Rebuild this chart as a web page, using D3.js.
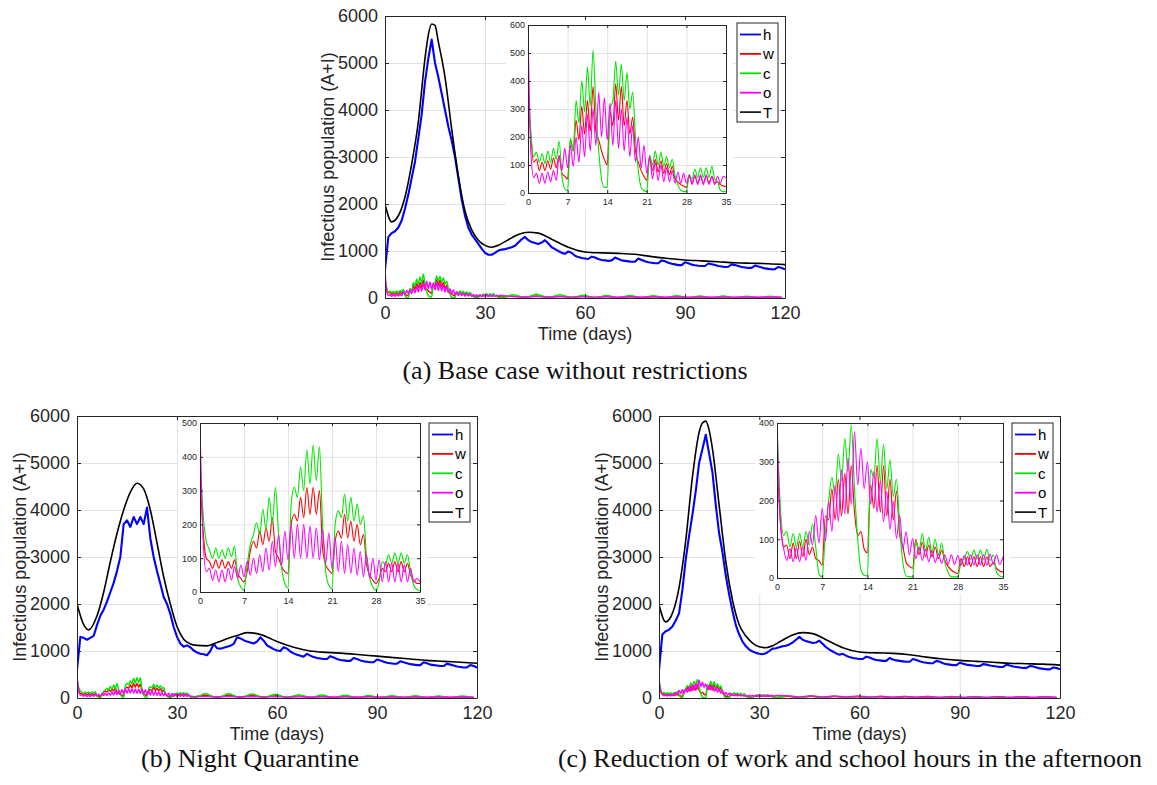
<!DOCTYPE html>
<html><head><meta charset="utf-8">
<script src="https://cdn.jsdelivr.net/npm/d3@7"></script>
<style>
body{margin:0;background:#fff}
svg{display:block}
text{font-family:"Liberation Sans",Arial,Helvetica,sans-serif}
</style>
</head><body>
<svg id="chart" width="1157" height="785"></svg>
<script>
// ---------- tick labels / categories ----------
const seriesNames = ["h","w","c","o","T"];
const mainXTicks = [0,30,60,90,120];
const mainYTicks = [0,1000,2000,3000,4000,5000,6000];
const insetXTicks = [0,7,14,21,28,35];
const insetYTicksA = [0,100,200,300,400,500,600];
const insetYTicksB = [0,100,200,300,400,500];
const insetYTicksC = [0,100,200,300,400];
const captions = ["(a) Base case without restrictions","(b) Night Quarantine","(c) Reduction of work and school hours in the afternoon"];

// sampling grids (x positions of the read-off values)
const hDays = d3.range(0,121);            // daily samples for h
const insetTimes = d3.range(0,35.001,0.5); // half-day samples, days 0-35
const tailTimes = d3.range(38.5,119.01,3.5); // mid-week / weekend samples, days 38.5-119

// ---------- panel (a) ----------
const hA = [600,1300,1380,1420,1500,1650,1900,2200,2550,2900,
 3400,3900,4600,5100,5500,5000,4700,4350,4000,3650,
 3350,3000,2550,2100,1750,1500,1350,1250,1150,1050,
 960,920,920,960,1010,1030,1040,1060,1080,1110,
 1180,1250,1300,1230,1190,1170,1150,1180,1230,1160,
 1080,1040,1000,960,940,990,960,900,870,850,
 840,830,880,860,830,810,800,790,800,860,
 830,800,790,780,770,770,840,810,780,760,
 750,740,740,800,780,750,730,715,700,700,
 760,740,710,695,685,680,680,735,720,700,
 680,670,660,665,715,700,680,660,650,640,
 640,690,670,650,630,620,610,615,660,640,
 610];
const TDaysA = [0,2,4,6,8,10,12,13,14,15,16,18,20,22,24,26,28,30,32,34,36,38,40,43,46,50,55,60,65,70,75,80,85,90,95,100,105,110,115,120];
const TA = [2000,1620,1750,2150,2850,3750,5100,5600,5830,5800,
 5450,4700,3600,2600,1850,1450,1230,1120,1080,1120,
 1200,1280,1350,1400,1380,1250,1080,980,960,950,
 930,880,840,810,790,770,750,740,730,710];
const wA = [350,200,110,120,80,110,80,115,85,125,90,135,70,60,
 50,190,150,260,190,310,210,330,220,380,220,190,150,120,
 100,290,240,390,260,380,240,330,210,270,150,110,80,60,
 45,130,80,120,75,115,70,105,65,95,50,40,30,25,
 20,60,35,60,35,60,35,60,35,60,35,40,30,25,
 22];
const cA = [400,220,130,145,110,140,105,150,110,160,120,185,60,15,
 8,195,150,330,250,400,290,450,310,510,300,150,50,20,
 20,300,330,470,350,460,330,430,300,360,200,80,20,8,
 5,135,100,150,100,145,95,130,90,120,60,30,10,5,
 5,65,50,85,55,90,55,90,55,95,50,40,10,5,
 5];
const oA = [600,150,55,70,35,70,35,75,40,80,45,130,80,160,
 90,170,95,200,110,240,130,280,150,300,170,360,200,340,
 190,320,170,330,160,300,150,270,130,240,110,200,90,170,
 70,130,50,110,45,100,40,90,40,80,35,75,35,70,
 35,65,30,65,30,65,30,65,30,60,30,60,35,60,
 55];
const wTailA = [40,15,45,15,40,15,35,12,35,12,30,10,30,10,28,10,28,10,25,10,25,10,25,10];
const cTailA = [70,5,80,5,70,5,60,5,55,5,55,5,50,5,50,5,45,5,45,5,40,5,40,5];
const oTailA = [30,20,30,20,28,18,28,18,25,17,25,17,24,16,24,16,22,15,22,15,20,15,20,15];

// ---------- panel (b) ----------
const hB = [600,1300,1280,1240,1280,1320,1550,1750,1880,2050,
 2250,2450,2700,3000,3700,3780,3640,3850,3700,3850,
 3700,4050,3400,3000,2700,2430,2150,2000,1790,1510,
 1300,1160,1090,1120,1080,1010,970,940,930,910,
 1000,1150,1060,1050,1070,1090,1110,1150,1290,1270,
 1230,1200,1180,1160,1200,1290,1220,1120,1080,1040,
 1010,1000,1080,1050,990,950,920,900,880,940,
 900,870,850,840,830,830,890,860,830,810,
 800,790,790,850,830,800,780,770,760,760,
 820,800,770,750,740,730,730,780,760,740,
 720,710,700,700,760,740,710,700,690,680,
 680,730,710,690,670,660,650,650,700,680,
 650];
const TDaysB = [0,2,3.5,6,8,10,12,14,16,18,20,22,24,26,28,30,32,34,36,39,42,45,48,51,54,57,60,65,70,75,80,85,90,95,100,105,110,115,120];
const TB = [2000,1560,1450,1750,2250,2900,3500,4000,4380,4570,
 4450,4000,3300,2580,2000,1520,1250,1150,1120,1110,
 1180,1260,1330,1390,1370,1300,1200,1080,1000,970,
 950,920,890,860,830,800,780,760,740];
const wB = [350,180,100,90,70,95,70,95,70,90,70,95,55,40,
 30,60,120,150,130,180,140,190,150,220,120,100,75,60,
 55,200,230,210,280,220,310,230,310,230,300,130,80,65,
 55,150,180,160,230,160,210,150,200,140,170,80,50,35,
 25,40,70,60,85,60,90,60,90,60,85,50,35,25,
 25];
const cB = [410,230,150,125,100,130,100,125,100,130,105,135,40,15,
 5,80,140,170,205,170,245,185,280,200,310,170,70,25,
 12,260,310,280,370,300,420,320,435,330,430,200,60,20,
 10,200,240,220,290,210,280,210,260,200,225,100,40,15,
 5,30,90,80,110,85,115,85,115,85,110,60,20,8,
 3];
const oB = [500,150,60,70,35,65,30,65,30,70,35,75,40,80,
 45,90,50,100,55,110,60,130,65,150,75,170,80,180,
 95,200,100,200,100,200,100,195,100,190,95,185,85,175,
 70,160,60,150,55,140,55,130,50,120,45,110,40,100,
 35,95,30,90,30,85,30,85,30,80,30,70,30,40,
 30];
const wTailB = [60,20,60,20,55,20,50,18,45,18,40,15,38,15,35,15,32,12,30,12,30,12,28,12];
const cTailB = [90,5,90,5,85,5,80,5,70,5,65,5,60,5,55,5,50,5,50,5,45,5,45,5];
const oTailB = [30,20,30,20,28,18,28,18,25,17,25,17,24,16,24,16,22,15,22,15,20,15,20,15];

// ---------- panel (c) ----------
const hC = [600,1350,1420,1450,1520,1650,1800,2300,2950,3450,
 3900,4400,5000,5300,5600,5200,4800,4100,3500,3100,
 2600,2200,1850,1550,1350,1200,1100,1030,990,960,
 940,930,950,1000,1050,1060,1080,1100,1110,1140,
 1180,1240,1300,1240,1210,1190,1170,1180,1220,1150,
 1080,1030,990,950,920,940,900,870,850,840,
 830,830,880,860,830,810,800,790,790,850,
 820,800,790,780,770,770,830,810,780,760,
 750,740,740,790,770,740,720,710,700,700,
 750,730,710,700,690,680,680,720,710,690,
 680,670,660,660,710,690,670,660,650,640,
 640,680,670,650,630,620,610,610,650,640,
 610];
const TDaysC = [0,2,4,6,8,10,12,13,14,15,16,18,20,22,24,26,28,30,32,34,36,38,40,43,46,50,55,60,65,70,75,80,85,90,95,100,105,110,115,120];
const TC = [1990,1620,1800,2350,3350,4700,5650,5850,5890,5700,
 5300,4100,2900,2080,1560,1320,1170,1090,1070,1110,
 1190,1270,1340,1390,1370,1240,1070,980,960,950,
 920,870,830,800,780,760,740,730,720,700];
const wC = [300,150,80,85,50,90,50,95,55,100,60,80,50,45,
 33,160,150,230,150,255,160,270,165,290,170,110,120,75,
 65,240,180,290,170,290,160,255,150,225,110,80,40,30,
 25,100,60,93,55,85,55,80,50,72,45,30,20,15,
 12,50,30,55,30,55,30,55,30,55,30,40,25,18,
 15];
const cC = [400,190,110,120,80,115,80,115,80,120,85,140,80,10,
 3,120,200,260,215,320,250,360,275,395,230,100,20,7,
 5,280,260,360,250,345,230,305,210,255,130,40,5,3,
 3,95,70,115,70,105,65,100,60,90,40,15,3,3,
 3,40,50,68,48,72,48,72,48,74,45,60,15,5,
 3];
const oC = [400,150,80,45,76,42,78,42,80,45,120,85,162,90,
 180,95,197,120,240,145,280,165,310,190,378,240,335,230,
 300,190,275,170,250,145,223,125,197,102,162,76,119,59,
 102,50,80,45,75,42,70,40,62,38,60,35,60,35,
 58,33,58,33,60,33,60,33,60,33,62,35,60,35,
 55];
const wTailC = [35,10,35,10,30,10,28,10,25,8,25,8,22,8,22,8,20,8,20,8,18,7,18,7];
const cTailC = [50,3,50,3,45,3,40,3,40,3,35,3,35,3,30,3,30,3,30,3,28,3,28,3];
const oTailC = [45,25,45,25,40,22,40,22,35,20,35,20,32,18,32,18,30,17,30,17,28,16,28,16];

// ---------- styles / layout ----------
const colors = {h:"#0000ff", w:"#ff0000", c:"#00e600", o:"#ff00ff", T:"#000000"};
const panels = [
 {id:"a", L:385,R:785,T:16,B:298, iL:528,iR:726,iT:25,iB:193, iTicks:insetYTicksA, capX:575, capY:379, cap:captions[0],
  d:{h:hA,TD:TDaysA,T:TA,w:wA,c:cA,o:oA,wT:wTailA,cT:cTailA,oT:oTailA}},
 {id:"b", L:77,R:477,T:416,B:698, iL:200,iR:420,iT:423,iB:592, iTicks:insetYTicksB, capX:250, capY:767, cap:captions[1],
  d:{h:hB,TD:TDaysB,T:TB,w:wB,c:cB,o:oB,wT:wTailB,cT:cTailB,oT:oTailB}},
 {id:"c", L:659,R:1060,T:416,B:698, iL:777,iR:1003,iT:423,iB:578, iTicks:insetYTicksC, capX:850, capY:767, cap:captions[2],
  d:{h:hC,TD:TDaysC,T:TC,w:wC,c:cC,o:oC,wT:wTailC,cT:cTailC,oT:oTailC}}
];

const svg = d3.select("#chart");
const defs = svg.append("defs");
const axisColor = "#262626", gridColor = "#e2e2e2";
const fmt = d3.format("d");

function styleAxis(sel, fontSize){
  sel.select(".domain").attr("stroke",axisColor).attr("stroke-width",1);
  sel.selectAll(".tick line").attr("stroke",axisColor).attr("stroke-width",1);
  sel.selectAll(".tick text").attr("fill",axisColor).attr("font-size",fontSize).attr("font-family","Liberation Sans, Arial, sans-serif");
}

function drawPanel(P){
  const D = P.d;
  const g = svg.append("g");
  const x = d3.scaleLinear().domain([0,120]).range([P.L,P.R]);
  const y = d3.scaleLinear().domain([0,6000]).range([P.B,P.T]);

  // grid
  g.append("g").attr("transform",`translate(0,${P.B})`)
   .call(d3.axisBottom(x).tickValues(mainXTicks).tickSize(-(P.B-P.T)).tickFormat(""))
   .call(s=>{s.select(".domain").remove(); s.selectAll(".tick line").attr("stroke",gridColor);});
  g.append("g").attr("transform",`translate(${P.L},0)`)
   .call(d3.axisLeft(y).tickValues(mainYTicks).tickSize(-(P.R-P.L)).tickFormat(""))
   .call(s=>{s.select(".domain").remove(); s.selectAll(".tick line").attr("stroke",gridColor);});

  // data
  defs.append("clipPath").attr("id","clip"+P.id).append("rect")
   .attr("x",P.L).attr("y",P.T).attr("width",P.R-P.L).attr("height",P.B-P.T);
  const dg = g.append("g").attr("clip-path",`url(#clip${P.id})`);
  const lin = d3.line().x(d=>x(d[0])).y(d=>y(d[1]));
  const smooth = d3.line().curve(d3.curveMonotoneX).x(d=>x(d[0])).y(d=>y(d[1]));
  dg.append("path").datum(hDays.map((t,i)=>[t,D.h[i]]))
    .attr("d",lin).attr("fill","none").attr("stroke",colors.h).attr("stroke-width",2.1).attr("stroke-linejoin","round");
  [["w",D.w,D.wT],["c",D.c,D.cT],["o",D.o,D.oT]].forEach(([k,arr,tail])=>{
    const pts = insetTimes.map((t,i)=>[t,arr[i]]).concat(tailTimes.map((t,i)=>[t,tail[i]]));
    dg.append("path").datum(pts).attr("d",smooth).attr("fill","none")
      .attr("stroke",colors[k]).attr("stroke-width",1.4);
  });
  dg.append("path").datum(D.TD.map((t,i)=>[t,D.T[i]]))
    .attr("d",smooth).attr("fill","none").attr("stroke",colors.T).attr("stroke-width",1.6);

  // inset background (covers main grid)
  g.append("rect").attr("x",P.iL-22).attr("y",P.T+1).attr("width",(P.iR+7)-(P.iL-22)).attr("height",(P.iB+16)-(P.T+1)).attr("fill","#fff");

  // main axes
  const fs = 18;
  g.append("g").attr("transform",`translate(0,${P.B})`)
   .call(d3.axisBottom(x).tickValues(mainXTicks).tickFormat(fmt).tickSizeInner(-4).tickSizeOuter(0).tickPadding(8))
   .call(s=>styleAxis(s,fs));
  g.append("g").attr("transform",`translate(0,${P.T})`)
   .call(d3.axisTop(x).tickValues(mainXTicks).tickSizeInner(-4).tickSizeOuter(0).tickFormat(""))
   .call(s=>styleAxis(s,fs));
  g.append("g").attr("transform",`translate(${P.L},0)`)
   .call(d3.axisLeft(y).tickValues(mainYTicks).tickFormat(fmt).tickSizeInner(-4).tickSizeOuter(0).tickPadding(7))
   .call(s=>styleAxis(s,fs));
  g.append("g").attr("transform",`translate(${P.R},0)`)
   .call(d3.axisRight(y).tickValues(mainYTicks).tickSizeInner(-4).tickSizeOuter(0).tickFormat(""))
   .call(s=>styleAxis(s,fs));

  g.append("text").attr("transform",`translate(${P.L-51},${(P.T+P.B)/2}) rotate(-90)`)
   .attr("text-anchor","middle").attr("font-size",fs).attr("fill",axisColor).text("Infectious population (A+I)");
  g.append("text").attr("x",(P.L+P.R)/2).attr("y",P.B+42)
   .attr("text-anchor","middle").attr("font-size",fs).attr("fill",axisColor).text("Time (days)");

  // inset
  const ix = d3.scaleLinear().domain([0,35]).range([P.iL,P.iR]);
  const iy = d3.scaleLinear().domain([0,d3.max(P.iTicks)]).range([P.iB,P.iT]);
  const ig = g.append("g");
  ig.append("g").attr("transform",`translate(0,${P.iB})`)
   .call(d3.axisBottom(ix).tickValues(insetXTicks).tickSize(-(P.iB-P.iT)).tickFormat(""))
   .call(s=>{s.select(".domain").remove(); s.selectAll(".tick line").attr("stroke",gridColor);});
  ig.append("g").attr("transform",`translate(${P.iL},0)`)
   .call(d3.axisLeft(iy).tickValues(P.iTicks).tickSize(-(P.iR-P.iL)).tickFormat(""))
   .call(s=>{s.select(".domain").remove(); s.selectAll(".tick line").attr("stroke",gridColor);});
  defs.append("clipPath").attr("id","iclip"+P.id).append("rect")
   .attr("x",P.iL).attr("y",P.iT).attr("width",P.iR-P.iL).attr("height",P.iB-P.iT);
  const idg = ig.append("g").attr("clip-path",`url(#iclip${P.id})`);
  const iline = d3.line().curve(d3.curveMonotoneX).x(d=>ix(d[0])).y(d=>iy(d[1]));
  [["w",D.w],["c",D.c],["o",D.o]].forEach(([k,arr])=>{
    idg.append("path").datum(insetTimes.map((t,i)=>[t,arr[i]]))
      .attr("d",iline).attr("fill","none").attr("stroke",colors[k]).attr("stroke-width",1.1);
  });
  const ifs = 9;
  ig.append("g").attr("transform",`translate(0,${P.iB})`)
   .call(d3.axisBottom(ix).tickValues(insetXTicks).tickFormat(fmt).tickSizeInner(-3).tickSizeOuter(0).tickPadding(6))
   .call(s=>styleAxis(s,ifs));
  ig.append("g").attr("transform",`translate(0,${P.iT})`)
   .call(d3.axisTop(ix).tickValues(insetXTicks).tickSizeInner(-3).tickSizeOuter(0).tickFormat(""))
   .call(s=>styleAxis(s,ifs));
  ig.append("g").attr("transform",`translate(${P.iL},0)`)
   .call(d3.axisLeft(iy).tickValues(P.iTicks).tickFormat(fmt).tickSizeInner(-3).tickSizeOuter(0).tickPadding(3))
   .call(s=>styleAxis(s,ifs));
  ig.append("g").attr("transform",`translate(${P.iR},0)`)
   .call(d3.axisRight(iy).tickValues(P.iTicks).tickSizeInner(-3).tickSizeOuter(0).tickFormat(""))
   .call(s=>styleAxis(s,ifs));

  // legend
  const lx = P.R-48, ly = P.T+7;
  const lg = g.append("g");
  lg.append("rect").attr("x",lx).attr("y",ly).attr("width",41).attr("height",99)
    .attr("fill","#fff").attr("stroke",axisColor).attr("stroke-width",1);
  seriesNames.forEach((k,i)=>{
    const yy = ly+11.5+i*19.4;
    lg.append("line").attr("x1",lx+3).attr("x2",lx+24).attr("y1",yy).attr("y2",yy)
      .attr("stroke",colors[k]).attr("stroke-width",k==="T"?1.6:1.8);
    lg.append("text").attr("x",lx+26).attr("y",yy).attr("dy","0.36em")
      .attr("font-size",15).attr("fill","#000").text(k);
  });

  // caption
  svg.append("text").attr("x",P.capX).attr("y",P.capY).attr("text-anchor","middle")
    .attr("font-size",26).attr("fill","#111")
    .style("font-family","'Liberation Serif','Times New Roman',serif").text(P.cap);
}

panels.forEach(drawPanel);
</script>
</body></html>
